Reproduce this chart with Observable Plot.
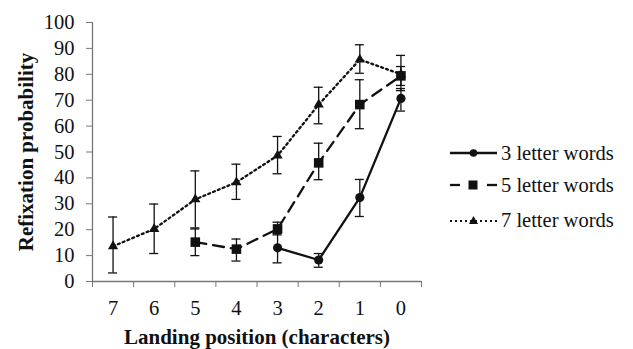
<!DOCTYPE html>
<html><head><meta charset="utf-8">
<script src="https://cdn.jsdelivr.net/npm/d3@7"></script>
<script src="https://cdn.jsdelivr.net/npm/@observablehq/plot@0.6"></script>
<style>
body{margin:0;background:#fff}
#wrap{position:relative;width:633px;height:349px;font-family:"Liberation Serif","Times New Roman",serif}
#wrap svg{font-family:"Liberation Serif","Times New Roman",serif}
g[aria-label="y-axis tick label"], g[aria-label="x-axis tick label"]{font-size:20.5px}
.lg{position:absolute;left:450px;height:20px;line-height:20px;font-size:20.5px;color:#111;white-space:nowrap;display:flex;align-items:center}
.lg svg{display:block;margin-right:2px}
</style></head><body><div id="wrap"></div>
<script>
const positions = ["7","6","5","4","3","2","1","0"];
const seriesNames = ["3 letter words","5 letter words","7 letter words"];
const three   = [null,null,null,null,13.0, 8.3,32.4,70.7];
const threeLo = [null,null,null,null, 7.2, 5.5,25.1,65.8];
const threeHi = [null,null,null,null,18.5,10.8,39.4,74.5];
const five    = [null,null,15.2,12.5,20.3,45.8,68.3,79.4];
const fiveLo  = [null,null,10.0, 7.9,18.0,39.3,59.0,75.7];
const fiveHi  = [null,null,20.3,16.4,22.9,53.4,77.9,83.0];
const seven   = [13.6,20.3,31.7,38.3,48.6,68.3,85.7,80.0];
const sevenLo = [ 3.3,10.8,20.7,31.7,41.6,60.9,80.4,73.7];
const sevenHi = [24.9,29.9,42.7,45.3,56.0,75.0,91.4,87.3];
const yTicks = [0,10,20,30,40,50,60,70,80,90,100];

const FONT = "Liberation Serif, Times New Roman, serif";

const series = [
  {name: seriesNames[0], v: three, lo: threeLo, hi: threeHi, dash: null, symbol: "circle", r: 4.6},
  {name: seriesNames[1], v: five, lo: fiveLo, hi: fiveHi, dash: "11,7", symbol: "square", r: 5.4},
  {name: seriesNames[2], v: seven, lo: sevenLo, hi: sevenHi, dash: "2,3.2", symbol: "triangle", r: 3.8}
];
const rows = series.map(s => positions.map((p, i) => ({series: s.name, x: i + 0.5, y: s.v[i], lo: s.lo[i], hi: s.hi[i]})).filter(d => d.y != null));
const allRows = rows.flat();
const cap = 0.11;

const marks = [
  Plot.ruleX([0], {stroke: "#777", strokeWidth: 1.3}),
  Plot.ruleY([0], {stroke: "#777", strokeWidth: 1.3}),
  Plot.axisY({ticks: yTicks, tickSize: 6, tickPadding: 12, fontSize: 20.5, stroke: "#777", fill: "#111", label: null}),
  Plot.axisX({ticks: d3.range(0, 9), tickSize: 6, tickFormat: () => "", stroke: "#777", label: null}),
  Plot.axisX({ticks: d3.range(8).map(i => i + 0.5), tickSize: 0, tickPadding: 19, fontSize: 20.5, fill: "#111", tickFormat: v => positions[Math.floor(v)], label: null}),
  Plot.text(["Refixation probability"], {frameAnchor: "left", textAnchor: "middle", lineAnchor: "middle", rotate: -90, dx: -66, fontSize: 21, fontWeight: "bold", fill: "#111"}),
  Plot.text(["Landing position (characters)"], {frameAnchor: "bottom", textAnchor: "middle", lineAnchor: "middle", dy: 56, fontSize: 21, fontWeight: "bold", fill: "#111"}),
  Plot.ruleX(allRows, {x: "x", y1: "lo", y2: "hi", stroke: "#111", strokeWidth: 1.3}),
  Plot.ruleY(allRows, {y: "hi", x1: d => d.x - cap, x2: d => d.x + cap, stroke: "#111", strokeWidth: 1.3}),
  Plot.ruleY(allRows, {y: "lo", x1: d => d.x - cap, x2: d => d.x + cap, stroke: "#111", strokeWidth: 1.3})
];
series.forEach((s, k) => {
  marks.push(Plot.line(rows[k], {x: "x", y: "y", stroke: "#111", strokeWidth: 2.3, strokeDasharray: s.dash}));
});
series.forEach((s, k) => {
  marks.push(Plot.dot(rows[k], {x: "x", y: "y", symbol: s.symbol, r: s.r, fill: "#111", stroke: "none"}));
});

const chart = Plot.plot({
  width: 633, height: 349,
  marginLeft: 92, marginRight: 212, marginTop: 22, marginBottom: 68,
  style: {fontFamily: FONT, background: "#fff"},
  x: {type: "linear", domain: [0, 8]},
  y: {domain: [0, 100]},
  marks
});
const wrap = document.getElementById("wrap");
wrap.appendChild(chart);

// legend
const legendRows = [
  {y: 143, svg: '<line x1="0" y1="10" x2="47" y2="10" stroke="#111" stroke-width="2.3"/><circle cx="23.5" cy="10" r="3.8" fill="#111"/>'},
  {y: 175, svg: '<line x1="0" y1="10" x2="10" y2="10" stroke="#111" stroke-width="2.3"/><rect x="18.5" y="5.5" width="9" height="9" fill="#111"/><line x1="37" y1="10" x2="47" y2="10" stroke="#111" stroke-width="2.3"/>'},
  {y: 210, svg: '<line x1="0" y1="11" x2="47" y2="11" stroke="#111" stroke-width="2" stroke-dasharray="2,3"/><path d="M23.5,6 L28,14 L19,14 Z" fill="#111"/>'}
];
legendRows.forEach((r, i) => {
  const d = document.createElement("div");
  d.className = "lg";
  d.style.top = r.y + "px";
  d.innerHTML = '<svg width="49" height="20">' + r.svg + '</svg><span>' + seriesNames[i] + '</span>';
  wrap.appendChild(d);
});
</script></body></html>
